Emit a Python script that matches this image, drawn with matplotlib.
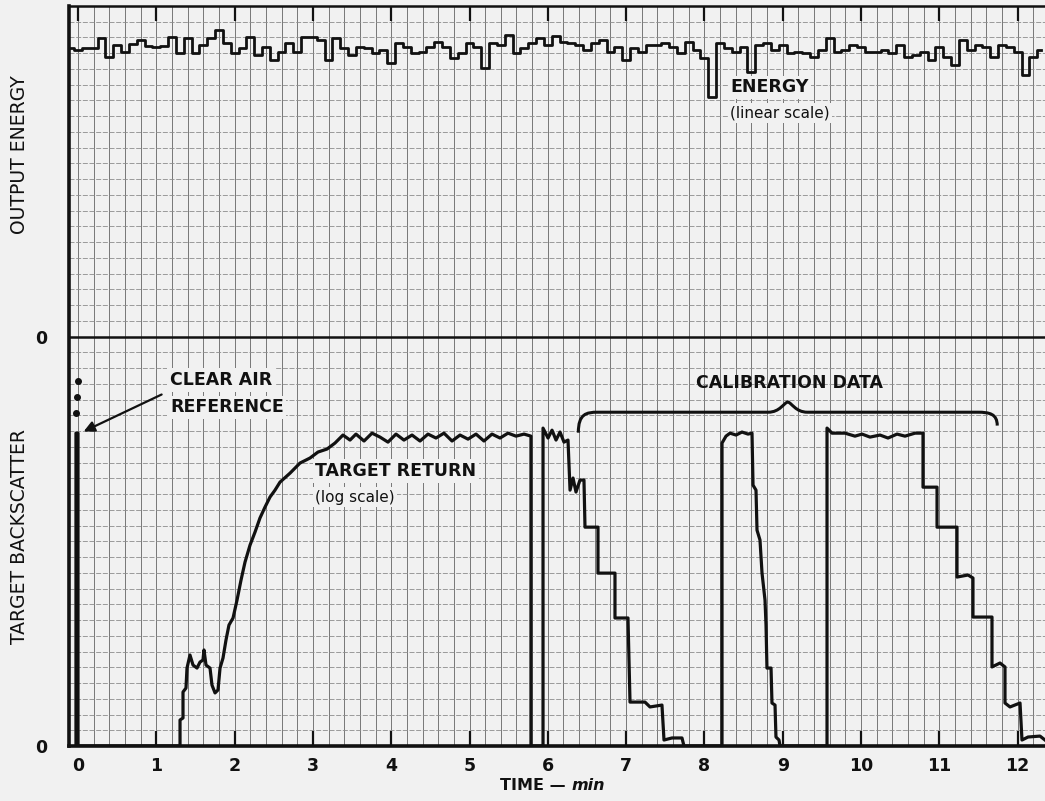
import numpy as np
import matplotlib
matplotlib.use("Agg")
import matplotlib.pyplot as plt
from matplotlib.path import Path
from matplotlib.patches import PathPatch

# chart units: x = time in minutes, y = recorder chart divisions from the bottom
ENERGY_ZERO = 26

# output energy trace, divisions above its zero line, sampled every 0.1 min from -0.1
energy_t = np.round(np.arange(-1, 124) * 0.1, 2)
energy = [
    18.32, 18.19, 18.32, 18.32, 18.95, 17.75, 18.51, 18.06, 18.57, 18.83,
    18.44, 18.38, 18.44, 19.02, 18.0, 18.95, 18.0, 18.51, 18.95, 19.46,
    18.63, 18.0, 18.32, 19.02, 17.87, 18.38, 17.56, 18.06, 18.63, 18.06,
    19.02, 19.02, 18.83, 17.56, 18.95, 18.32, 17.87, 18.38, 18.32, 18.0,
    18.19, 17.37, 18.63, 18.38, 18.0, 18.06, 18.38, 18.70, 18.38, 17.68,
    18.0, 18.63, 18.38, 17.05, 18.63, 18.51, 19.14, 18.0, 18.32, 18.63,
    18.95, 18.51, 19.08, 18.70, 18.63, 18.51, 18.19, 18.63, 18.83, 18.06,
    18.38, 17.56, 18.32, 18.06, 18.51, 18.51, 18.63, 18.38, 18.0, 18.70,
    18.19, 17.68, 15.2, 18.63, 18.32, 18.06, 18.38, 16.79, 18.51, 18.63,
    18.19, 18.51, 18.0, 18.06, 18.0, 17.75, 18.19, 18.95, 18.06, 18.19,
    18.51, 18.38, 18.06, 18.06, 18.19, 18.0, 18.51, 17.75, 17.87, 18.06,
    17.56, 18.38, 17.75, 17.24, 18.83, 18.19, 18.51, 18.38, 17.75, 18.51,
    18.38, 18.06, 16.6, 17.75, 18.19,
]

# target backscatter trace (log scale), divisions above the bottom line
back_t = [
    -0.026, -0.026, 0.0, 0.0, 1.303, 1.303, 1.341, 1.341, 1.379, 1.392,
    1.430, 1.469, 1.520, 1.558, 1.596, 1.609, 1.635, 1.686, 1.711, 1.750,
    1.788, 1.814, 1.852, 1.890, 1.928, 1.980, 2.031, 2.082, 2.133, 2.197,
    2.261, 2.324, 2.388, 2.452, 2.516, 2.580, 2.708, 2.835, 2.963, 3.065,
    3.180, 3.282, 3.384, 3.474, 3.550, 3.653, 3.755, 3.857, 3.959, 4.061,
    4.163, 4.266, 4.368, 4.470, 4.572, 4.674, 4.777, 4.879, 4.981, 5.083,
    5.185, 5.287, 5.390, 5.492, 5.594, 5.696, 5.785, 5.785, 5.939, 5.939,
    6.003, 6.054, 6.105, 6.156, 6.207, 6.258, 6.284, 6.322, 6.360, 6.411,
    6.462, 6.475, 6.641, 6.641, 6.858, 6.858, 7.024, 7.050, 7.241, 7.305,
    7.458, 7.484, 7.586, 7.714, 7.739, 8.225, 8.225, 8.276, 8.327, 8.404,
    8.480, 8.557, 8.608, 8.621, 8.659, 8.672, 8.710, 8.736, 8.774, 8.787,
    8.799, 8.851, 8.863, 8.902, 8.914, 8.953, 8.966, 9.566, 9.566, 9.630,
    9.796, 9.923, 10.013, 10.115, 10.243, 10.345, 10.460, 10.562, 10.690, 10.792,
    10.792, 10.971, 10.971, 11.226, 11.226, 11.367, 11.430, 11.430, 11.673, 11.673,
    11.775, 11.839, 11.839, 11.903, 12.031, 12.056, 12.133, 12.286, 12.350,
]
backscatter = [
    0, 19.87, 19.87, 0, 0, 1.65, 1.78, 3.43, 3.68, 4.95,
    5.78, 5.14, 4.95, 5.33, 5.46, 6.10, 5.14, 4.95, 3.87, 3.37,
    3.56, 4.95, 5.59, 6.73, 7.68, 8.13, 9.27, 10.54, 11.68, 12.76,
    13.59, 14.48, 15.17, 15.81, 16.25, 16.76, 17.33, 17.97, 18.29, 18.67,
    18.86, 19.24, 19.75, 19.43, 19.81, 19.37, 19.87, 19.62, 19.30, 19.81,
    19.43, 19.75, 19.37, 19.81, 19.56, 19.87, 19.37, 19.75, 19.49, 19.81,
    19.37, 19.81, 19.56, 19.87, 19.68, 19.81, 19.68, 0, 0, 20.19,
    19.56, 20.06, 19.43, 19.94, 19.30, 19.43, 16.25, 17.02, 16.13, 16.89,
    16.89, 13.90, 13.90, 10.98, 10.98, 8.13, 8.13, 2.79, 2.79, 2.48,
    2.60, 0.38, 0.51, 0.51, 0, 0, 19.24, 19.68, 19.87, 19.75,
    19.94, 19.81, 19.87, 16.57, 16.25, 13.71, 13.08, 10.98, 9.27, 7.68,
    4.95, 4.95, 2.73, 2.60, 0.57, 0.38, 0, 0, 20.19, 19.87,
    19.87, 19.68, 19.81, 19.62, 19.75, 19.56, 19.81, 19.68, 19.87, 19.87,
    16.44, 16.44, 13.90, 13.90, 10.73, 10.86, 10.67, 8.19, 8.19, 5.02,
    5.27, 5.02, 2.73, 2.48, 2.73, 0.38, 0.57, 0.63, 0.38,
]

# dots above the clear air reference
ref_dots_t = [0.0, -0.013, -0.026]
ref_dots = [23.17, 22.16, 21.14]

CAL_START, CAL_END = 6.39, 11.74
minute_ticks = list(range(0, 13))

paper = "#f1f1f1"
ink = "#111111"
plt.rcParams["font.family"] = ["DejaVu Sans"]

fig = plt.figure(figsize=(10.45, 8.01), dpi=100, facecolor=paper)
ax = fig.add_axes([69 / 1045, 55 / 801, 976 / 1045, 740 / 801])
ax.set_facecolor(paper)
ax.set_xlim(-0.115, 12.35)
ax.set_ylim(0, 47)

# chart paper grid
for gx in np.arange(0, 12.4, 0.2):
    ax.axvline(gx, color="#6e6e6e", lw=0.65, zorder=0)
for gy in range(1, 47):
    ax.axhline(gy, color="#8c8c8c", lw=0.6, ls=(0, (6, 2)), zorder=0)
ax.axhline(ENERGY_ZERO, color=ink, lw=1.8, zorder=2)

# traces
ax.plot(energy_t, np.array(energy) + ENERGY_ZERO, color=ink, lw=2.0,
        drawstyle="steps-mid", zorder=3)
ax.plot(back_t, backscatter, color=ink, lw=2.3, zorder=3)
ax.plot(ref_dots_t, ref_dots, "o", color=ink, ms=4, zorder=3)

# calibration bracket
ymid = 21.2
mid = (CAL_START + CAL_END) / 2
verts = [
    (CAL_START, ymid - 1.3), (CAL_START, ymid - 0.1), (CAL_START + 0.1, ymid), (CAL_START + 0.25, ymid),
    (mid - 0.25, ymid),
    (mid - 0.1, ymid), (mid - 0.05, ymid + 0.6), (mid, ymid + 0.65),
    (mid + 0.05, ymid + 0.6), (mid + 0.1, ymid), (mid + 0.25, ymid),
    (CAL_END - 0.25, ymid),
    (CAL_END - 0.1, ymid), (CAL_END, ymid - 0.1), (CAL_END, ymid - 0.85),
]
codes = [Path.MOVETO, Path.CURVE4, Path.CURVE4, Path.CURVE4, Path.LINETO,
         Path.CURVE4, Path.CURVE4, Path.CURVE4, Path.CURVE4, Path.CURVE4, Path.CURVE4,
         Path.LINETO, Path.CURVE4, Path.CURVE4, Path.CURVE4]
ax.add_patch(PathPatch(Path(verts, codes), fill=False, ec=ink, lw=2.2, zorder=3))

# labels inside the chart
lab = dict(color=ink, fontsize=12.5, fontweight="bold", zorder=4)
box = dict(boxstyle="square,pad=0.15", fc=paper, ec="none")
ax.text(8.33, 41.84, "ENERGY", va="center", ha="left", bbox=box, **lab)
ax.text(8.33, 40.2, "(linear scale)", va="center", ha="left", bbox=box,
        color=ink, fontsize=11, zorder=4)
ax.text(1.175, 23.24, "CLEAR AIR", va="center", ha="left", bbox=box, **lab)
ax.text(1.175, 21.52, "REFERENCE", va="center", ha="left", bbox=box, **lab)
ax.annotate("", xy=(0.04, 19.9), xytext=(1.1, 22.4),
            arrowprops=dict(arrowstyle="-|>", color=ink, lw=1.6, mutation_scale=16),
            zorder=4)
ax.text(3.03, 17.46, "TARGET RETURN", va="center", ha="left", bbox=box, **lab)
ax.text(3.03, 15.8, "(log scale)", va="center", ha="left", bbox=box,
        color=ink, fontsize=11, zorder=4)
ax.text(9.09, 23.05, "CALIBRATION DATA", va="center", ha="center", **lab)

# axes frame and ticks
ax.spines["right"].set_visible(False)
ax.spines["left"].set_linewidth(2.6)
ax.spines["bottom"].set_linewidth(2.6)
ax.spines["top"].set_linewidth(1.8)
for side in ["left", "bottom", "top"]:
    ax.spines[side].set_color(ink)
ax.set_xticks(minute_ticks)
ax.set_xticklabels([str(m) for m in minute_ticks], fontsize=12.5, fontweight="bold")
ax.tick_params(axis="x", direction="in", length=11, width=1.6, top=True,
               labeltop=False, pad=8, colors=ink)
ax.set_yticks([0, ENERGY_ZERO])
ax.set_yticklabels(["0", "0"], fontsize=12.5, fontweight="bold")
ax.tick_params(axis="y", length=0, pad=16, colors=ink)

fig.text(20 / 1045, 1 - 155 / 801, "OUTPUT ENERGY", rotation=90, ha="center",
         va="center", fontsize=13.5, color=ink)
fig.text(20 / 1045, 1 - 537 / 801, "TARGET BACKSCATTER", rotation=90, ha="center",
         va="center", fontsize=13.5, color=ink)
fig.text(566 / 1045, 1 - 786 / 801, "TIME \u2014", ha="right", va="center",
         fontsize=11.5, fontweight="bold", color=ink)
fig.text(572 / 1045, 1 - 786 / 801, "min", ha="left", va="center",
         fontsize=11.5, fontweight="bold", style="italic", color=ink)

fig.savefig("out.png", dpi=100, facecolor=paper)
